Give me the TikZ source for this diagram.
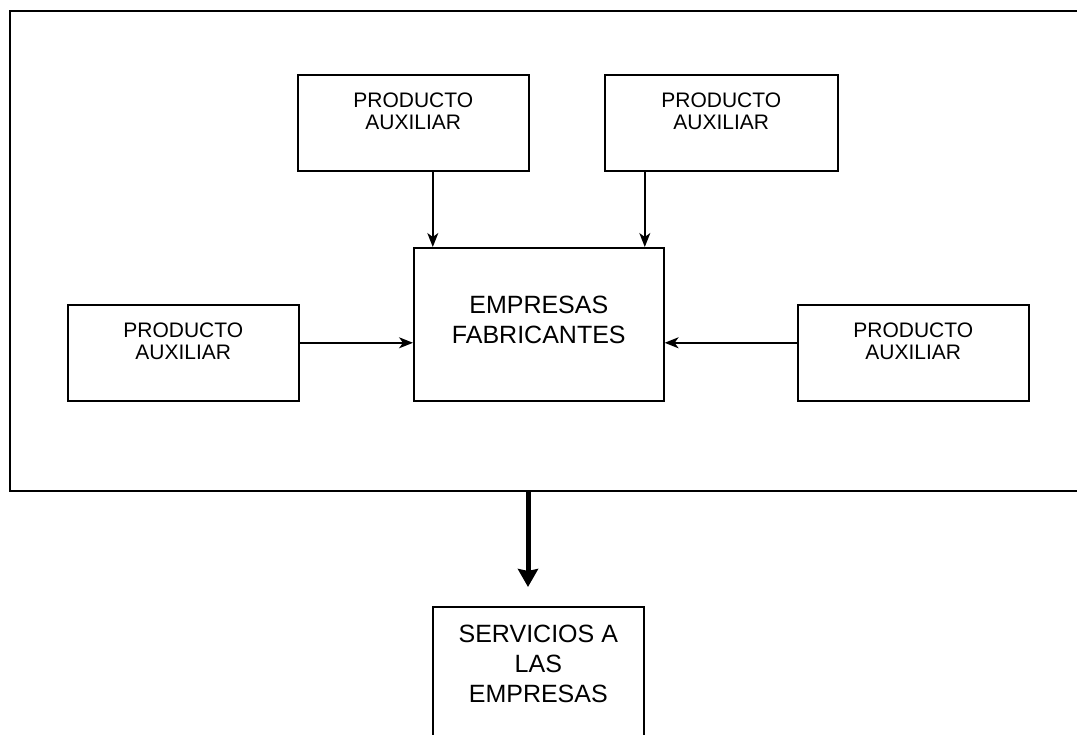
\documentclass[tikz,border=0pt]{standalone}
\usepackage{fontspec}
\setmainfont{Liberation Sans}
\usetikzlibrary{arrows.meta}

\tikzset{
  framebox/.style={draw, line width=2pt, inner sep=0pt, anchor=north west},
  box/.style={draw, line width=1.6pt, inner sep=0pt, anchor=north west},
  smalltxt/.style={align=center, inner sep=0pt, font=\fontsize{21pt}{22pt}\selectfont},
  bigtxt/.style={align=center, inner sep=0pt, font=\fontsize{25pt}{30pt}\selectfont},
  arr/.style={line width=1.5pt, -{Stealth[length=14pt,width=11pt,inset=4pt]}},
  bigarr/.style={line width=5pt, -{Stealth[length=18pt,width=20pt,inset=2pt]}}
}

\begin{document}
\begin{tikzpicture}[x=1pt,y=-1pt]
\useasboundingbox (0,0) rectangle (1077,735);
\clip (0,0) rectangle (1077,735);

% outer frame, open past the right edge of the page
\node[framebox, minimum width=1100pt, minimum height=480pt] (frame) at (9,10) {};

% supplier boxes
\node[box, minimum width=231pt, minimum height=96pt] (pa1) at (297,74) {};
\node[box, minimum width=233pt, minimum height=96pt] (pa2) at (604,74) {};
\node[box, minimum width=231pt, minimum height=96pt] (pa3) at (67,304) {};
\node[box, minimum width=231pt, minimum height=96pt] (pa4) at (797,304) {};

% manufacturers
\node[box, minimum width=250pt, minimum height=153pt] (emp) at (413,247) {};

% services box, running off the bottom edge
\node[box, minimum width=211pt, minimum height=160pt] (svc) at (432,606) {};

% labels
\node[smalltxt] at ([yshift=-37.5pt]pa1.north) {PRODUCTO\\AUXILIAR};
\node[smalltxt] at ([yshift=-37.5pt]pa2.north) {PRODUCTO\\AUXILIAR};
\node[smalltxt] at ([yshift=-37pt]pa3.north) {PRODUCTO\\AUXILIAR};
\node[smalltxt] at ([yshift=-37pt]pa4.north) {PRODUCTO\\AUXILIAR};
\node[bigtxt] at ([yshift=-73pt]emp.north) {EMPRESAS\\FABRICANTES};
\node[bigtxt] at ([yshift=-58pt]svc.north) {SERVICIOS A\\LAS\\EMPRESAS};

% connectors
\draw[arr] ([xshift=19.5pt]pa1.south) -- ([xshift=19.5pt]pa1.south |- emp.north);
\draw[arr] ([xshift=-76.5pt]pa2.south) -- ([xshift=-76.5pt]pa2.south |- emp.north);
\draw[arr] ([yshift=10pt]pa3.east) -- ([yshift=10pt]pa3.east -| emp.west);
\draw[arr] ([yshift=10pt]pa4.west) -- ([yshift=10pt]pa4.west -| emp.east);

\coordinate (tip) at (528,587);
\draw[bigarr] (frame.south -| tip) -- (tip);
\end{tikzpicture}
\end{document}
